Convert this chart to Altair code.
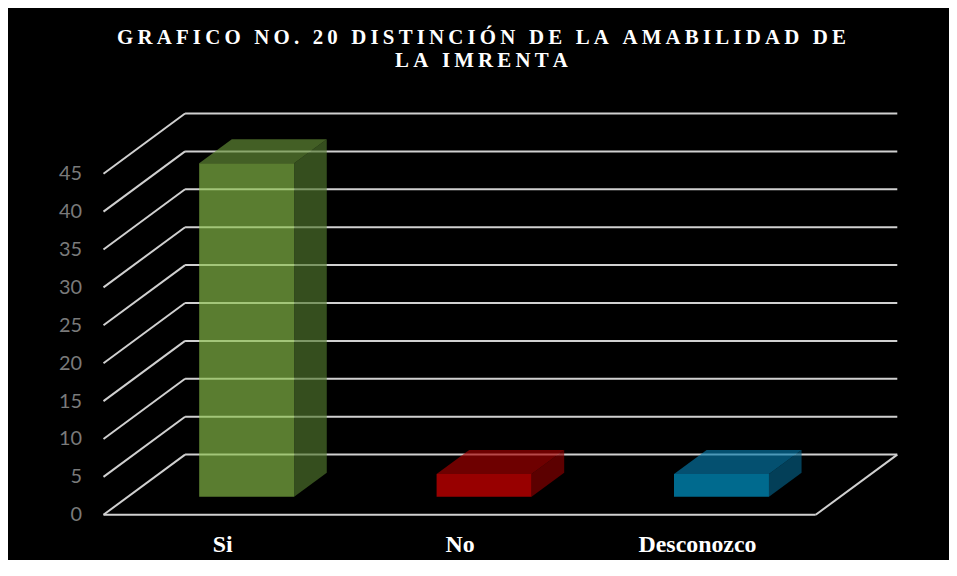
import altair as alt
import pandas as pd

# ---- data ----
categories = ["Si", "No", "Desconozco"]
values = [44, 3, 3]
tick_values = [0, 5, 10, 15, 20, 25, 30, 35, 40, 45]
title_lines = ["GRAFICO NO. 20 DISTINCIÓN DE LA AMABILIDAD DE", "LA IMRENTA"]

front_colors = ["#8AC04A", "#EA0000", "#00A3DA"]
top_colors = ["#679239", "#A90000", "#067BAC"]
side_colors = ["#52782E", "#8E0000", "#056187"]

# ---- layout / style constants ----
W, H = 802, 411
PAD = {"left": 96, "top": 97, "right": 48, "bottom": 44}
PX_PER_UNIT_Y = 7.62
PX_PER_CAT = 238.67
Y_MAX = H / PX_PER_UNIT_Y
X_MAX = W / PX_PER_CAT
DX = 82 / PX_PER_CAT          # floor depth, in category units
DY = 60.5 / PX_PER_UNIT_Y     # floor depth, in value units
BAR_LO, BAR_HI = 0.3, 0.7     # bar footprint within a band
D_FRONT, D_BACK = 0.3, 0.7    # bar position within the floor depth
OPAC = 0.65
n = len(categories)

# ---- wall / floor lines ----
rules = []
for v in tick_values:
    rules.append(dict(x=DX, y=v + DY, x2=n + DX, y2=v + DY))   # back wall gridline
    rules.append(dict(x=0, y=v, x2=DX, y2=v + DY))              # side wall diagonal
rules.append(dict(x=0, y=0, x2=n, y2=0))                        # floor front edge
rules.append(dict(x=n, y=0, x2=n + DX, y2=DY))                  # floor right edge
rules_df = pd.DataFrame(rules)

front_rows, top_rows, side_rows = [], [], []
for i, (c, v) in enumerate(zip(categories, values)):
    front_rows.append(dict(cat=c, x=i + BAR_LO + D_FRONT * DX, x2=i + BAR_HI + D_FRONT * DX,
                           y=D_FRONT * DY, y2=v + D_FRONT * DY, fill=front_colors[i]))
    for d in (D_FRONT, D_BACK):
        top_rows.append(dict(cat=c, y=v + d * DY, x=i + BAR_LO + d * DX,
                             x2=i + BAR_HI + d * DX, fill=top_colors[i]))
        side_rows.append(dict(cat=c, x=i + BAR_HI + d * DX, y=d * DY,
                              y2=v + d * DY, fill=side_colors[i]))
front_df = pd.DataFrame(front_rows)
top_df = pd.DataFrame(top_rows)
side_df = pd.DataFrame(side_rows)

xs = alt.Scale(domain=[0, X_MAX], nice=False, zero=False)
ys = alt.Scale(domain=[0, Y_MAX], nice=False, zero=False)

label_expr = "[" + ",".join("'%s'" % c for c in categories) + "][floor(datum.value)]"

x_axis = alt.Axis(values=[i + 0.5 for i in range(n)], labelExpr=label_expr,
                  labelFont="Liberation Serif", labelFontWeight="bold", labelFontSize=24,
                  labelColor="#ffffff", labelPadding=18, ticks=False, domain=False,
                  grid=False, title=None, labelFlush=False)
y_axis = alt.Axis(values=tick_values, labelFont="Lato", labelFontSize=20,
                  labelColor="#7a7a7a", labelPadding=22, ticks=False, domain=False,
                  grid=False, title=None)

X = lambda f: alt.X(f, scale=xs, axis=x_axis, title=None)
Y = lambda f: alt.Y(f, scale=ys, axis=y_axis, title=None)

lines = alt.Chart(rules_df).mark_rule(color="#d0d0d0", strokeWidth=2).encode(
    x=X("x:Q"), y=Y("y:Q"), x2="x2:Q", y2="y2:Q",
)

front = alt.Chart(front_df).mark_rect(opacity=OPAC).encode(
    x=X("x:Q"), x2="x2:Q", y=Y("y:Q"), y2="y2:Q",
    color=alt.Color("fill:N", scale=None),
)

top = alt.Chart(top_df).mark_area(orient="horizontal", opacity=OPAC).encode(
    y=Y("y:Q"), x=X("x:Q"), x2="x2:Q",
    detail="cat:N",
    color=alt.Color("fill:N", scale=None),
)

side = alt.Chart(side_df).mark_area(opacity=OPAC).encode(
    x=X("x:Q"), y=Y("y:Q"), y2="y2:Q",
    detail="cat:N",
    color=alt.Color("fill:N", scale=None),
)

spaced_title = ["\u2009".join(list(t)) for t in title_lines]

chart = alt.layer(lines, front, top, side).properties(
    width=W,
    height=H,
    padding=PAD,
    autosize=alt.AutoSizeParams(type="none"),
    background="#000000",
    title=alt.TitleParams(text=spaced_title, font="Liberation Serif", fontSize=21,
                          fontWeight="bold", color="#ffffff", anchor="middle",
                          dx=-21, offset=35, lineHeight=23),
).configure_view(stroke=None)

chart.save("out.html", embed_options={"renderer": "svg", "actions": False})
